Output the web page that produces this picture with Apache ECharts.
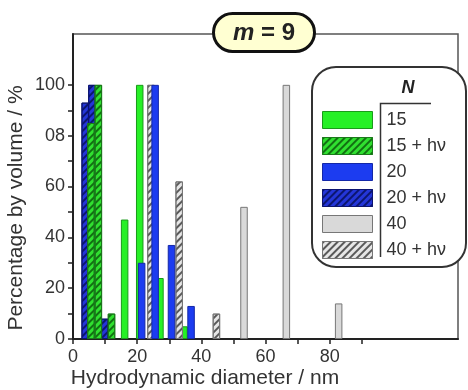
<!DOCTYPE html>
<html>
<head>
<meta charset="utf-8">
<script src="https://cdn.jsdelivr.net/npm/echarts@6/dist/echarts.min.js"></script>
<style>
  html, body { margin: 0; padding: 0; background: #fff; }
  #chart { width: 468px; height: 390px; }
</style>
</head>
<body>
<div id="chart"></div>
<script>
// bar positions [diameter nm, % by volume]
var d15  = [[16.1, 47], [20.8, 100], [27.1, 24], [34.6, 5]];
var d15h = [[5.6, 85], [7.9, 100], [12.0, 10]];
var d20  = [[21.4, 30], [25.6, 100], [30.7, 37], [36.8, 13]];
var d20h = [[3.8, 93], [5.9, 100], [9.9, 8]];
var d40  = [[53.3, 52], [66.5, 100], [82.8, 14]];
var d40h = [[24.3, 100], [33.1, 62], [44.7, 10]];

var legendNames = ['15', '15 + hν', '20', '20 + hν', '40', '40 + hν'];
var xLabels = [0, 20, 40, 60, 80];
var xTicks = [0, 10, 20, 30, 40, 50, 60, 70, 80, 90];
var yLabels = [0, 20, 40, 60, 80, 100];
var yTicks = [0, 10, 20, 30, 40, 50, 60, 70, 80, 90, 100];

var chart = echarts.init(document.getElementById('chart'));

// diagonal hatching
function hatch(color) {
  return {
    symbol: 'rect',
    symbolSize: 1,
    dashArrayX: [1, 0],
    dashArrayY: [2, 3],
    rotation: -Math.PI / 4,
    color: color
  };
}

function barSeries(name, data, fill, border, decal) {
  var s = {
    name: name,
    type: 'bar',
    data: data,
    barWidth: 7.5,
    barGap: '-100%',
    itemStyle: {
      color: fill,
      borderColor: border,
      borderWidth: 1
    }
  };
  if (decal) s.itemStyle.decal = decal;
  return s;
}

var option = {
  animation: false,
  title: {
    text: '{m|m}{r| = 9}',
    left: 213,
    top: 13,
    backgroundColor: '#ffffd2',
    borderColor: '#111',
    borderWidth: 3,
    borderRadius: 20,
    padding: [8, 20, 7, 20],
    z: 30,
    textStyle: {
      rich: {
        m: { fontFamily: 'Liberation Sans', fontSize: 24, fontWeight: 'bold', fontStyle: 'italic', color: '#222' },
        r: { fontFamily: 'Liberation Sans', fontSize: 24, fontWeight: 'bold', color: '#222' }
      }
    }
  },
  grid: {
    left: 73,
    right: 10,
    top: 34,
    bottom: 51,
    show: true,
    borderColor: '#555',
    borderWidth: 1.5
  },
  legend: {
    data: legendNames,
    orient: 'vertical',
    left: 322,
    top: 111,
    padding: 0,
    itemWidth: 50,
    itemHeight: 17,
    itemGap: 8,
    icon: 'rect',
    selectedMode: false,
    z: 40,
    itemStyle: { borderWidth: 1 },
    textStyle: {
      fontFamily: 'Liberation Sans',
      fontSize: 18,
      color: '#333',
      lineHeight: 17,
      padding: [0, 0, 0, 9]
    }
  },
  xAxis: {
    type: 'value',
    min: 0,
    max: 120,
    interval: 10,
    splitLine: { show: false },
    axisLine: { onZero: false, lineStyle: { color: '#222', width: 2 } },
    axisTick: { customValues: xTicks, length: 5, lineStyle: { color: '#222', width: 1.5 } },
    axisLabel: {
      customValues: xLabels,
      margin: 9,
      fontFamily: 'Liberation Sans',
      fontSize: 18,
      color: '#333'
    }
  },
  yAxis: {
    type: 'value',
    min: 0,
    max: 120,
    interval: 10,
    splitLine: { show: false },
    axisLine: { show: true, lineStyle: { color: '#222', width: 2 } },
    axisTick: { customValues: yTicks, length: 5, lineStyle: { color: '#222', width: 1.5 } },
    axisLabel: {
      customValues: yLabels,
      margin: 8,
      fontFamily: 'Liberation Sans',
      fontSize: 18,
      color: '#333',
      formatter: function (v) {
        // the reference prints the 80 tick as "08"
        return v === 80 ? '08' : String(v);
      }
    }
  },
  graphic: [
    {
      type: 'rect',
      z: 20,
      shape: { x: 312, y: 67, width: 154, height: 200, r: 24 },
      style: { fill: '#fff', stroke: '#333', lineWidth: 2 }
    },
    {
      type: 'text',
      z: 21,
      style: {
        text: 'N', x: 408, y: 88, align: 'center', verticalAlign: 'middle',
        fontFamily: 'Liberation Sans', fontSize: 18, fontWeight: 'bold', fontStyle: 'italic', fill: '#222'
      }
    },
    {
      type: 'polyline',
      z: 21,
      shape: { points: [[431, 103.5], [380.5, 103.5], [380.5, 257]] },
      style: { stroke: '#333', lineWidth: 1.5, fill: null }
    },
    {
      type: 'text',
      z: 21,
      rotation: Math.PI / 2,
      x: 16,
      y: 208,
      style: {
        text: 'Percentage by volume / %', align: 'center', verticalAlign: 'middle',
        fontFamily: 'Liberation Sans', fontSize: 21, fill: '#333'
      }
    },
    {
      type: 'text',
      z: 21,
      x: 205,
      y: 378,
      style: {
        text: 'Hydrodynamic diameter / nm', align: 'center', verticalAlign: 'middle',
        fontFamily: 'Liberation Sans', fontSize: 21, fill: '#333'
      }
    }
  ],
  series: [
    barSeries('40', d40, '#d9d9d9', '#777', null),
    barSeries('15', d15, '#26f026', '#1a9a1a', null),
    barSeries('40 + hν', d40h, '#e6e6e6', '#777', hatch('#5a5a5a')),
    barSeries('20', d20, '#1c3cf0', '#1428a8', null),
    barSeries('20 + hν', d20h, '#2436d8', '#0c1470', hatch('#0c1670')),
    barSeries('15 + hν', d15h, '#30e030', '#1a7a1a', hatch('#127012'))
  ]
};

chart.setOption(option);
</script>
</body>
</html>
